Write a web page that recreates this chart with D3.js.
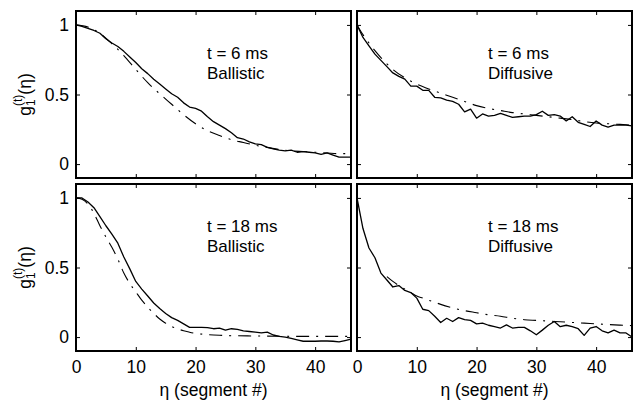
<!DOCTYPE html>
<html>
<head>
<meta charset="utf-8">
<script src="https://cdn.jsdelivr.net/npm/d3@7"></script>
<style>
  body { margin: 0; background: #fff; }
  svg { display: block; }
  text { font-family: "Liberation Sans", Arial, Helvetica, sans-serif; fill: #000; }
</style>
</head>
<body>
<svg id="chart" width="644" height="406"></svg>
<script>
// measured g1 curves, one value per segment (eta = 0..46)
const eta = d3.range(0, 47);

const ballistic6 = [1.00, 0.99, 0.975, 0.96, 0.94, 0.90, 0.87, 0.845, 0.81, 0.77,
  0.73, 0.685, 0.65, 0.61, 0.575, 0.54, 0.505, 0.48, 0.44, 0.41,
  0.40, 0.38, 0.34, 0.305, 0.28, 0.255, 0.225, 0.19, 0.18, 0.16,
  0.145, 0.14, 0.12, 0.11, 0.10, 0.095, 0.10, 0.085, 0.09, 0.085,
  0.08, 0.07, 0.08, 0.065, 0.05, 0.05, 0.05];

const diffusive6 = [1.00, 0.91, 0.85, 0.79, 0.745, 0.70, 0.655, 0.63, 0.61, 0.56,
  0.56, 0.53, 0.53, 0.48, 0.475, 0.46, 0.45, 0.43, 0.375, 0.395,
  0.33, 0.36, 0.345, 0.35, 0.365, 0.35, 0.335, 0.34, 0.345, 0.345,
  0.355, 0.38, 0.35, 0.355, 0.345, 0.31, 0.34, 0.30, 0.285, 0.27,
  0.31, 0.28, 0.265, 0.28, 0.28, 0.28, 0.275];

const ballistic18 = [1.00, 1.00, 0.97, 0.93, 0.865, 0.80, 0.74, 0.675, 0.575, 0.49,
  0.40, 0.345, 0.295, 0.245, 0.205, 0.17, 0.14, 0.12, 0.095, 0.07,
  0.07, 0.07, 0.068, 0.06, 0.065, 0.05, 0.06, 0.055, 0.045, 0.04,
  0.035, 0.03, 0.035, 0.015, 0.005, 0.0, -0.01, -0.02, -0.03, -0.03,
  -0.03, -0.028, -0.028, -0.03, -0.035, -0.025, -0.015];

const diffusive18 = [1.00, 0.78, 0.64, 0.57, 0.46, 0.41, 0.36, 0.37, 0.335, 0.32,
  0.28, 0.20, 0.19, 0.15, 0.105, 0.135, 0.112, 0.14, 0.125, 0.12,
  0.095, 0.10, 0.085, 0.075, 0.065, 0.088, 0.065, 0.07, 0.07, 0.045,
  0.017, 0.05, 0.085, 0.112, 0.075, 0.085, 0.075, 0.06, 0.012, 0.064,
  0.076, 0.045, 0.03, 0.05, 0.03, 0.03, 0.0];

const ballistic6FitEta = [0, 2, 4, 6, 8, 10, 12, 14, 16, 18, 20, 22, 24, 26, 28, 30, 32, 34, 36, 38, 40, 42, 44, 46];
const ballistic6Fit = [1.0, 0.985, 0.94, 0.865, 0.78, 0.68, 0.585, 0.505, 0.43, 0.355, 0.29, 0.24,
  0.205, 0.175, 0.155, 0.135, 0.12, 0.105, 0.095, 0.09, 0.085, 0.08, 0.075, 0.075];

const diffusive6FitEta = [0, 1, 2, 3, 4, 5, 6, 8, 10, 12, 14, 16, 18, 20, 22, 24, 26, 28, 30, 32, 34, 36, 38, 40, 42, 44, 46];
const diffusive6Fit = [1.0, 0.93, 0.87, 0.815, 0.765, 0.72, 0.68, 0.62, 0.575, 0.54, 0.51, 0.48, 0.45,
  0.42, 0.40, 0.385, 0.37, 0.36, 0.35, 0.34, 0.33, 0.32, 0.305, 0.295, 0.29, 0.285, 0.28];

const ballistic18FitEta = [0, 1, 2, 3, 4, 5, 6, 7, 8, 9, 10, 11, 12, 13, 14, 15, 16, 17, 18, 19, 20, 22, 24, 26, 30, 34, 38, 42, 46];
const ballistic18Fit = [1.0, 0.99, 0.955, 0.89, 0.80, 0.72, 0.645, 0.56, 0.46, 0.385, 0.325, 0.265, 0.215,
  0.17, 0.13, 0.10, 0.077, 0.06, 0.045, 0.035, 0.027, 0.018, 0.013, 0.01, 0.008, 0.006, 0.005, 0.005, 0.005];

const diffusive18FitEta = [5, 6, 7, 8, 9, 10, 11, 12, 13, 14, 16, 18, 20, 22, 24, 26, 28, 30, 32, 34, 36, 38, 40, 42, 44, 46];
const diffusive18Fit = [0.435, 0.40, 0.37, 0.345, 0.32, 0.295, 0.28, 0.265, 0.25, 0.235, 0.21, 0.19, 0.175,
  0.16, 0.15, 0.135, 0.125, 0.12, 0.115, 0.11, 0.105, 0.10, 0.095, 0.09, 0.086, 0.082];

const panelLabels = [["t = 6 ms", "Ballistic"], ["t = 6 ms", "Diffusive"],
                     ["t = 18 ms", "Ballistic"], ["t = 18 ms", "Diffusive"]];
const xTicks = [0, 10, 20, 30, 40];
const yTicks = [0, 0.5, 1];

const svg = d3.select('#chart');
const fontSize = 17.5;

const panelW = 275, panelH = 167;
const colX = [76, 357];
const rowY = [11, 184];

const x = d3.scaleLinear().domain([0, 46]).range([0, panelW]);
const y = d3.scaleLinear().domain([-0.1, 1.1]).range([panelH, 0]);

const panels = [
  { col: 0, row: 0, data: ballistic6, fitEta: ballistic6FitEta, fit: ballistic6Fit, label: panelLabels[0] },
  { col: 1, row: 0, data: diffusive6, fitEta: diffusive6FitEta, fit: diffusive6Fit, label: panelLabels[1] },
  { col: 0, row: 1, data: ballistic18, fitEta: ballistic18FitEta, fit: ballistic18Fit, label: panelLabels[2] },
  { col: 1, row: 1, data: diffusive18, fitEta: diffusive18FitEta, fit: diffusive18Fit, label: panelLabels[3] }
];

const line = d3.line()
  .x(d => x(d[0]))
  .y(d => y(d[1]));

const fitLine = d3.line()
  .x(d => x(d[0]))
  .y(d => y(d[1]))
  .curve(d3.curveMonotoneX);

panels.forEach(p => {
  const g = svg.append('g')
    .attr('transform', `translate(${colX[p.col]}, ${rowY[p.row]})`);

  // inward ticks on all four sides
  const axes = [
    { gen: d3.axisBottom(x), at: `translate(0, ${panelH})`, labels: p.row === 1 },
    { gen: d3.axisTop(x), at: 'translate(0, 0)', labels: false },
    { gen: d3.axisLeft(y), at: 'translate(0, 0)', labels: p.col === 0 },
    { gen: d3.axisRight(y), at: `translate(${panelW}, 0)`, labels: false }
  ];
  axes.forEach((a, i) => {
    const isX = i < 2;
    a.gen.tickValues(isX ? xTicks : yTicks)
      .tickSizeInner(-4)
      .tickSizeOuter(0)
      .tickPadding(isX ? 10 : 7)
      .tickFormat(a.labels ? (d => String(d)) : () => '');
    const ax = g.append('g').attr('transform', a.at).call(a.gen);
    ax.select('.domain').remove();
    ax.selectAll('line').attr('stroke', '#000').attr('stroke-width', 1);
    ax.selectAll('text')
      .style('font-size', fontSize + 'px')
      .style('font-family', '"Liberation Sans", Arial, Helvetica, sans-serif')
      .attr('fill', '#000');
  });

  g.append('path')
    .datum(p.fitEta.map((e, i) => [e, p.fit[i]]))
    .attr('fill', 'none')
    .attr('stroke', '#000')
    .attr('stroke-width', 1.1)
    .attr('stroke-dasharray', '13,7,2,7')
    .attr('d', fitLine);

  g.append('path')
    .datum(eta.map((e, i) => [e, p.data[i]]))
    .attr('fill', 'none')
    .attr('stroke', '#000')
    .attr('stroke-width', 1.3)
    .attr('stroke-linejoin', 'round')
    .attr('d', line);

  g.append('rect')
    .attr('width', panelW)
    .attr('height', panelH)
    .attr('fill', 'none')
    .attr('stroke', '#000')
    .attr('stroke-width', 2);

  g.selectAll('.plabel')
    .data(p.label)
    .join('text')
    .attr('class', 'plabel')
    .attr('x', 131)
    .attr('y', (d, i) => 48 + i * 19.5)
    .style('font-size', '17px')
    .text(d => d);
});

// y labels: g_1^(t)(eta)
rowY.forEach(top => {
  const t = svg.append('text')
    .attr('transform', `translate(31, ${top + panelH / 2}) rotate(-90)`)
    .attr('text-anchor', 'middle')
    .style('font-size', fontSize + 'px');
  t.append('tspan').text('g');
  t.append('tspan').attr('dy', 4).style('font-size', '12px').text('1');
  t.append('tspan').attr('dx', -6.7).attr('dy', -13).style('font-size', '12px').text('(t)');
  t.append('tspan').attr('dy', 9).text('(η)');
});

// x labels
colX.forEach(left => {
  svg.append('text')
    .attr('x', left + panelW / 2)
    .attr('y', 396)
    .attr('text-anchor', 'middle')
    .style('font-size', fontSize + 'px')
    .text('η (segment #)');
});
</script>
</body>
</html>
